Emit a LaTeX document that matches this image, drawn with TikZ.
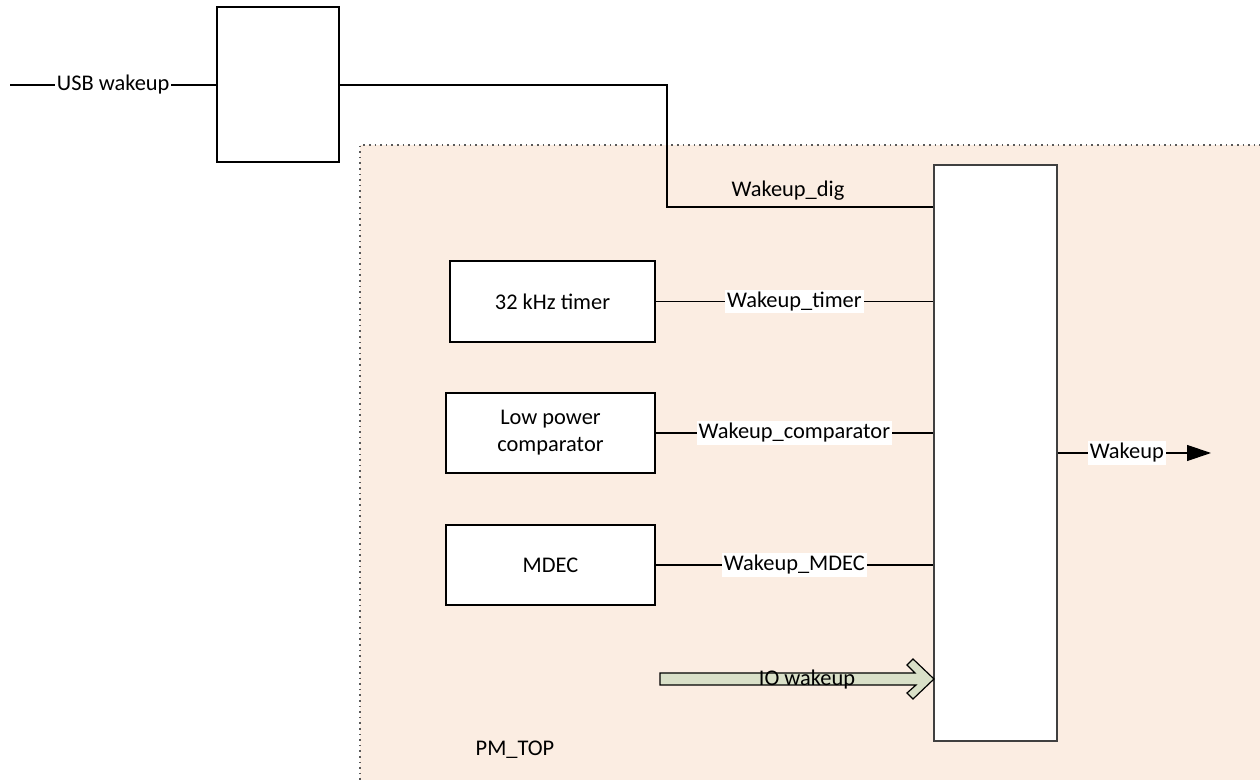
\documentclass[tikz,border=0pt]{standalone}
\usepackage{fontspec}
\setmainfont{Carlito}
\usepackage{tikz}
\usetikzlibrary{calc}
\usetikzlibrary{arrows.meta}
\definecolor{pmpeach}{RGB}{251,237,226}
\definecolor{iogreen}{RGB}{217,224,200}
\tikzstyle{block}=[rectangle,draw,fill=white,line width=0.6pt,align=center,inner sep=2pt]
\tikzstyle{sig}=[fill=white,inner sep=1pt]
\tikzstyle{wire}=[line width=0.6pt]

\begin{document}
\begin{tikzpicture}[x=0.5pt,y=-0.5pt,font=\fontsize{11.2}{13.5}\selectfont]
\useasboundingbox (0,0) rectangle (1260,780);

% PM_TOP area
\fill[pmpeach] (360,145) rectangle (1260,780);
\draw[dotted,gray!70!black,line width=0.8pt] (360,780) -- (360,145) -- (1260,145);
\node (pmtop) at (515,750) {PM\_TOP};

% vertices
\node[block,minimum width=61pt,minimum height=77.5pt] (usbblk) at (278,84.5) {};
\node[block,draw=black!75,line width=0.9pt,minimum width=61.5pt,minimum height=288pt] (wakemux) at (995.5,453) {};

\node[block,minimum width=102.5pt,minimum height=40.5pt] (timer) at (552.5,301.5) {32 kHz timer};
\node[block,minimum width=104.5pt,minimum height=40pt] (comp) at (550.5,433) {Low power\\comparator};
\node[block,minimum width=104.5pt,minimum height=40pt] (mdec) at (550.5,565) {MDEC};

% free ends
\coordinate (usbin) at (10,85);
\coordinate (digturn) at (667,85);
\coordinate (wakeout) at (1211,453);

% edges and paths
\draw[wire] (usbin) -- node[sig] {USB wakeup} (usbblk.west |- usbin);
\draw[wire] (usbblk.east |- digturn) -- (digturn) |- (wakemux.west |- 0,207);
\node (diglbl) at (788,191) {Wakeup\_dig};

\draw[wire] (timer.east) -- node[sig] {Wakeup\_timer} (timer.east -| wakemux.west);
\draw[wire] (comp.east) -- node[sig] {Wakeup\_comparator} (comp.east -| wakemux.west);
\draw[wire] (mdec.east) -- node[sig] {Wakeup\_MDEC} (mdec.east -| wakemux.west);

\draw[wire,-{Triangle[length=12pt,width=8pt]}] (wakemux.east) -- node[sig,pos=0.45] {Wakeup} (wakeout);

% IO wakeup arrow
\draw[fill=iogreen,line width=0.6pt] (660,673) -- (915,673) -- (907,665) -- (913,659) -- (934,679)
  -- (913,699) -- (907,693) -- (916,685) -- (660,685) -- cycle;
\node (iolbl) at (807,680) {IO wakeup};

\end{tikzpicture}
\end{document}
